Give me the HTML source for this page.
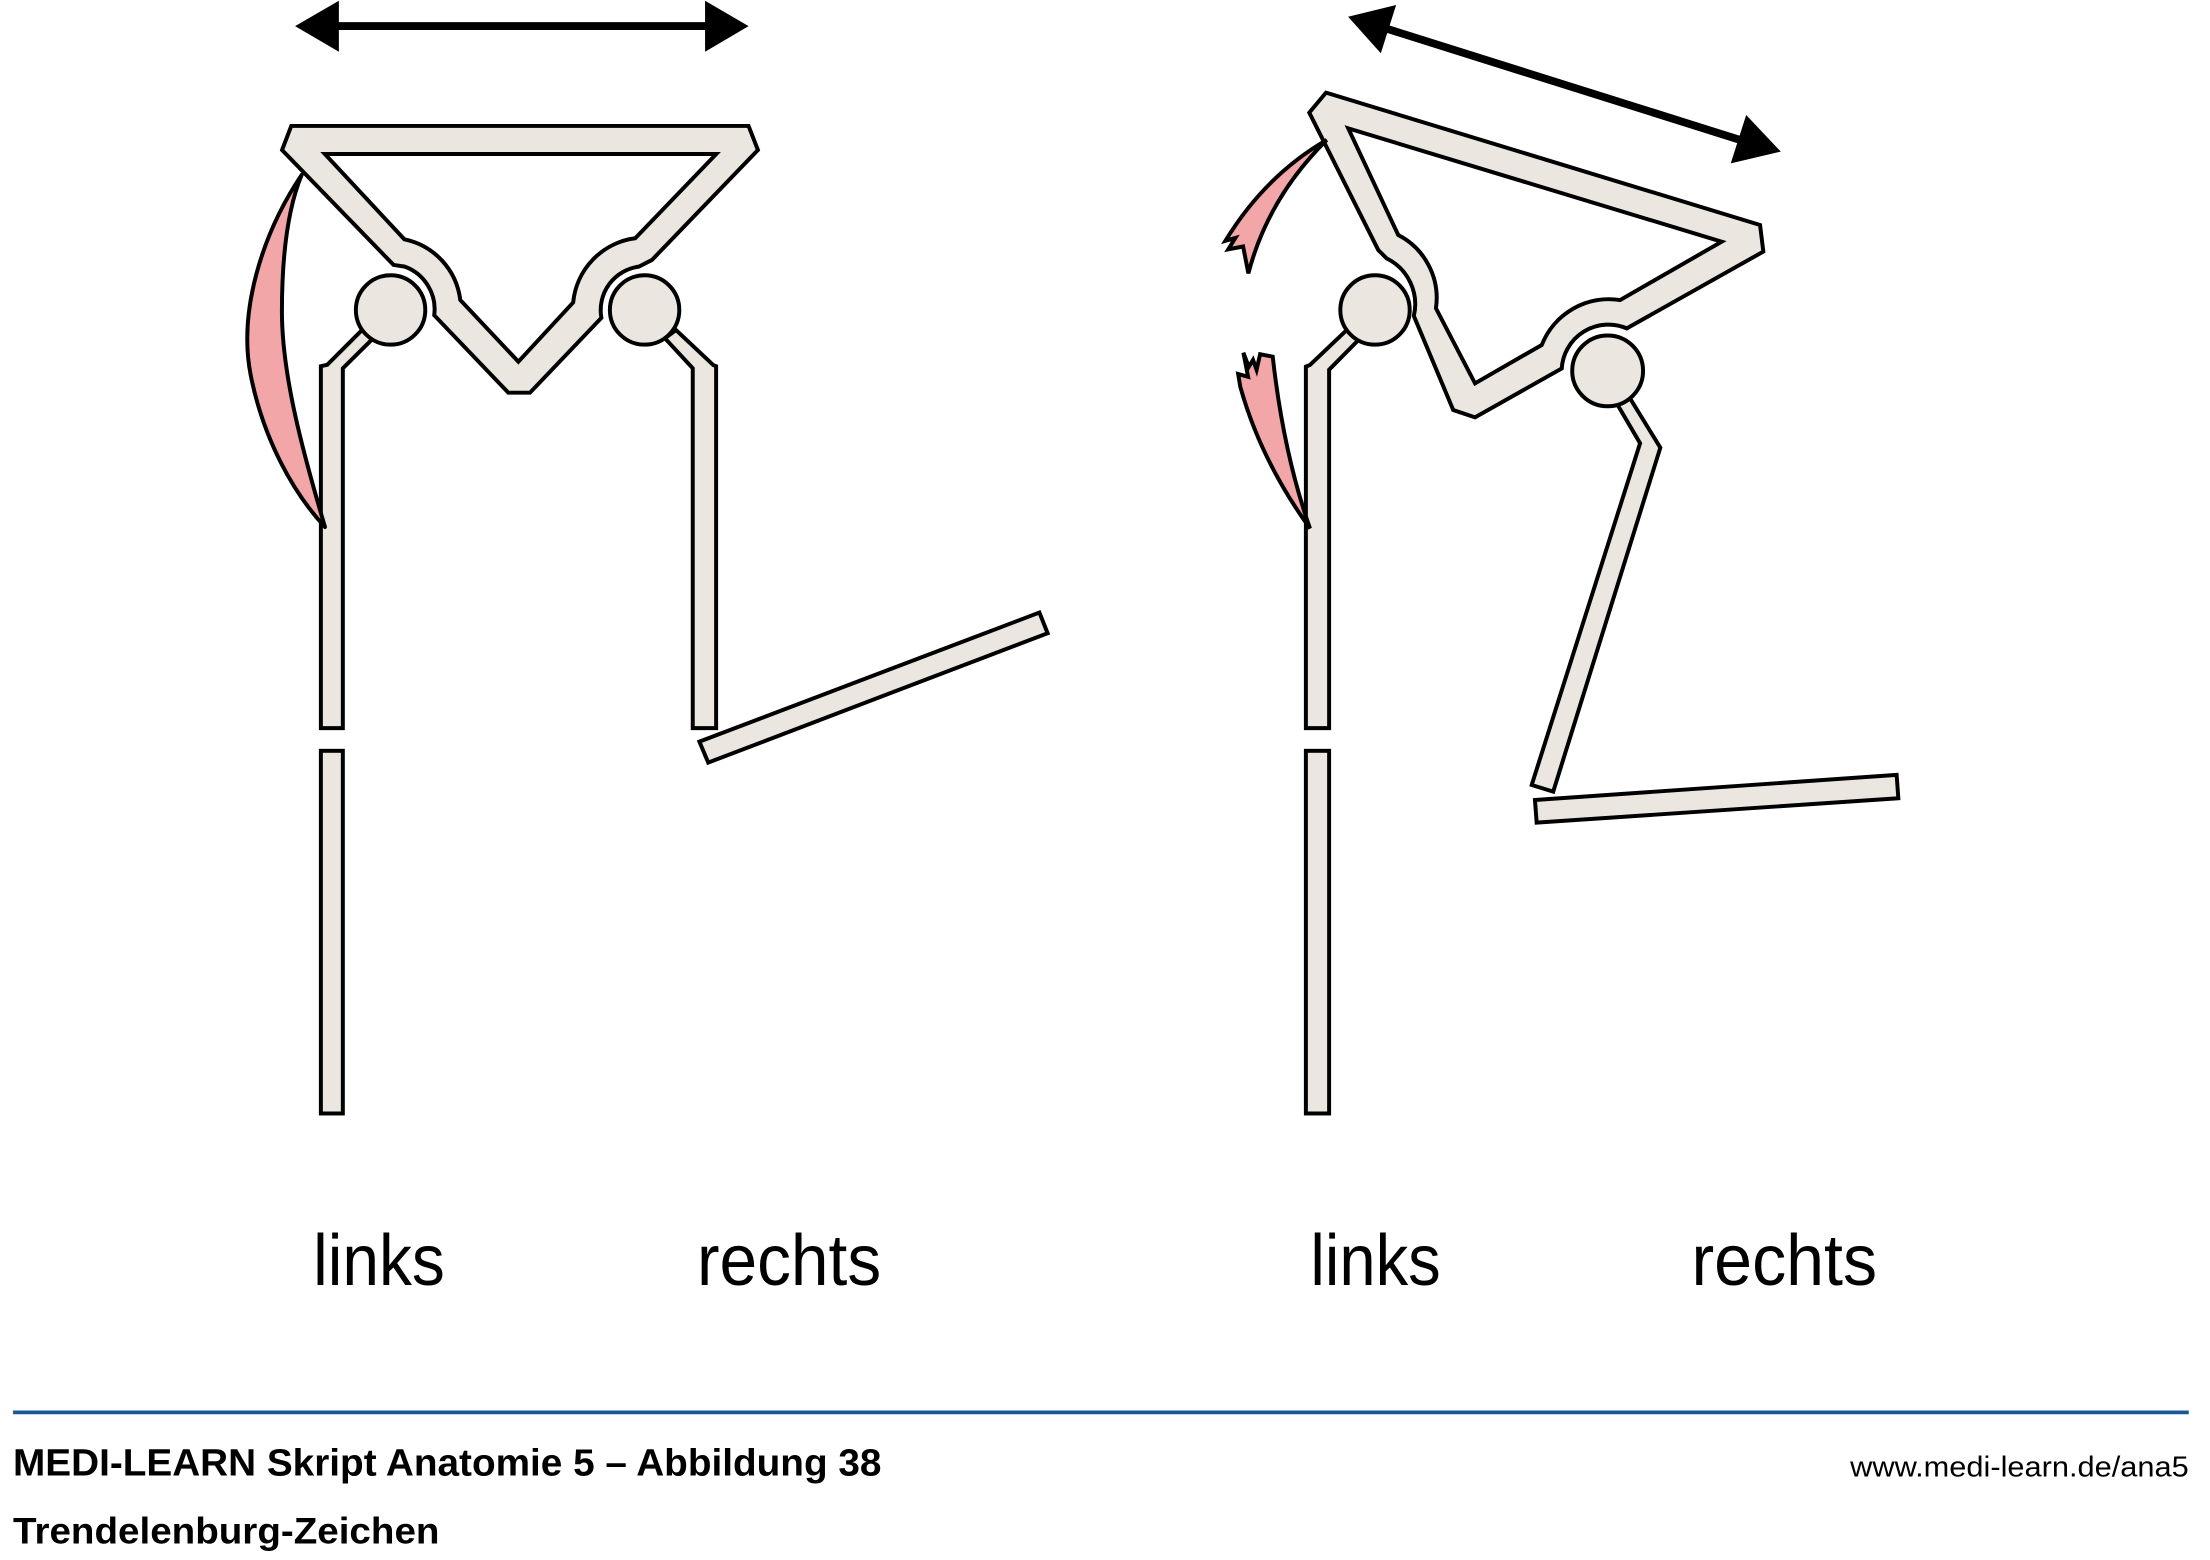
<!DOCTYPE html>
<html>
<head>
<meta charset="utf-8">
<style>
  html, body { margin:0; padding:0; background:#ffffff; }
  svg { display:block; }
</style>
</head>
<body>
<svg width="2210" height="1560" viewBox="0 0 1560 1101.2" preserveAspectRatio="none" xmlns="http://www.w3.org/2000/svg">
  <rect x="0" y="0" width="1560" height="1101.2" fill="#ffffff"/>

  <!-- ===== LEFT FIGURE ===== -->
  <!-- top arrow -->
  <line x1="236" y1="18.4" x2="501" y2="18.4" stroke="#000" stroke-width="5.5"/>
  <polygon points="208.3,18.4 239.2,0.5 239.2,36.5" fill="#000"/>
  <polygon points="528.4,18.4 497.7,0.5 497.7,36.5" fill="#000"/>

  <g fill="#ebe6df" stroke="#000" stroke-width="2.8" stroke-linejoin="miter">
    <!-- femurs -->
    <path d="M255.5,233 L231,257.5 L226.5,258.5 L226.5,514 L242,514 L242,260 L263.4,238.8 Z"/>
    <rect x="226.5" y="530" width="15.5" height="256"/>
    <path d="M477.2,233 L503.5,257.7 L505.5,258.5 L505.5,514 L489,514 L489,260 L469.4,238.8 Z"/>
    <polygon points="493.7,523.5 733.7,432.4 739.5,447 499.9,538.3"/>
    <!-- femoral heads -->
    <circle cx="275.7" cy="218.8" r="24.5"/>
    <circle cx="455" cy="218.8" r="24.5"/>
    <!-- pelvis -->
    <path fill-rule="evenodd" d="M205.6,88.9 L528.4,88.9 L535,105.9 L460.2,183.5 L451,188.2 A31,31 0 0 0 424.5,224.4 L374.1,277.2 L358.8,277.2 L306.5,222.5 A32,32 0 0 0 285.7,188.2 L277.8,187 L199.1,105.9 Z
      M229.3,108.7 L505.6,108.7 L448.4,168.2 A50.5,50.5 0 0 0 404.6,213.5 L365.9,255.3 L324.9,211.8 A50,50 0 0 0 285.4,168.9 Z"/>
  </g>
  <!-- muscle -->
  <path d="M212.9,123.5 C185,165 168,220 177,265 C186,310 207,348 229.4,372 C214,320 199,265 199,220 C199,175 204,145 212.9,123.5 Z"
        fill="#f2a6a7" stroke="#000" stroke-width="2.8" stroke-linejoin="round"/>

  <!-- ===== RIGHT FIGURE ===== -->
  <!-- tilted arrow -->
  <line x1="978" y1="20" x2="1229" y2="99" stroke="#000" stroke-width="5.5"/>
  <polygon points="951.6,11.8 985.5,3.5 974.7,37.6" fill="#000"/>
  <polygon points="1257,107 1232.6,81.2 1221.7,115.3" fill="#000"/>

  <g fill="#ebe6df" stroke="#000" stroke-width="2.8" stroke-linejoin="miter">
    <!-- left femur (stance leg) -->
    <path d="M950.6,233 L924.7,257.6 L921.8,258.8 L921.8,514 L938.2,514 L938.2,261 L958.9,240 Z"/>
    <rect x="921.8" y="530" width="16.4" height="256"/>
    <!-- right femur (swing leg) -->
    <path d="M1141.2,284.7 L1157.7,312.9 L1081.2,554.1 L1096.4,558.8 L1172,316 L1150.6,281.2 Z"/>
    <polygon points="1083.5,564.7 1338.8,547 1340,563.5 1084.7,580.7"/>
    <!-- heads -->
    <circle cx="970.6" cy="218.8" r="24.5"/>
    <circle cx="1134.8" cy="261.8" r="25"/>
    <!-- pelvis tilted -->
    <path fill-rule="evenodd" d="M936,65.4 L1242.4,158.8 L1244.7,177.6 L1148.3,231.8 A33,33 0 0 0 1102.4,260.1 L1041.2,294.6 L1025.8,289.4 L998,223 A36,36 0 0 0 978.8,182.4 L972.9,176.5 L924.2,79.5 Z
      M951.7,90.6 L1215.3,170.6 L1143.6,211.8 A51,51 0 0 0 1088.3,243.5 L1041.2,270.6 L1013.6,217.6 A50,50 0 0 0 987,165.9 Z"/>
  </g>
  <!-- torn muscle fragments -->
  <path d="M936.5,98.8 Q893,124 865,170 L872,168 L867,176 L877.5,174 L881.2,193 Q895,140 936.5,98.8 Z"
        fill="#f2a6a7" stroke="#000" stroke-width="2.8" stroke-linejoin="miter"/>
  <path d="M877.7,249 L881.5,259 L884.5,254 L887,261 L889.5,250 L898.4,251.8 Q906,320 924.7,373 Q890,325 875.5,273 L874,264 L881,266 Z"
        fill="#f2a6a7" stroke="#000" stroke-width="2.8" stroke-linejoin="miter"/>

  <!-- ===== LABELS ===== -->
  <g font-family="'Liberation Sans Narrow','Liberation Sans',sans-serif" font-size="51" fill="#000">
    <text x="221" y="907" textLength="93" lengthAdjust="spacingAndGlyphs">links</text>
    <text x="492" y="907" textLength="130" lengthAdjust="spacingAndGlyphs">rechts</text>
    <text x="925" y="907" textLength="92" lengthAdjust="spacingAndGlyphs">links</text>
    <text x="1194" y="907" textLength="131" lengthAdjust="spacingAndGlyphs">rechts</text>
  </g>

  <!-- ===== FOOTER ===== -->
  <line x1="9.2" y1="997" x2="1545" y2="997" stroke="#1b5797" stroke-width="2.6"/>
  <g font-family="'Liberation Sans Narrow','Liberation Sans',sans-serif" fill="#000">
    <text x="9.2" y="1041.5" font-size="26.5" font-weight="bold" textLength="613" lengthAdjust="spacingAndGlyphs">MEDI-LEARN Skript Anatomie 5 – Abbildung 38</text>
    <text x="9.2" y="1089.4" font-size="26" font-weight="bold" textLength="301" lengthAdjust="spacingAndGlyphs">Trendelenburg-Zeichen</text>
    <text x="1306" y="1042.4" font-size="20" textLength="239" lengthAdjust="spacingAndGlyphs">www.medi-learn.de/ana5</text>
  </g>
</svg>
</body>
</html>
